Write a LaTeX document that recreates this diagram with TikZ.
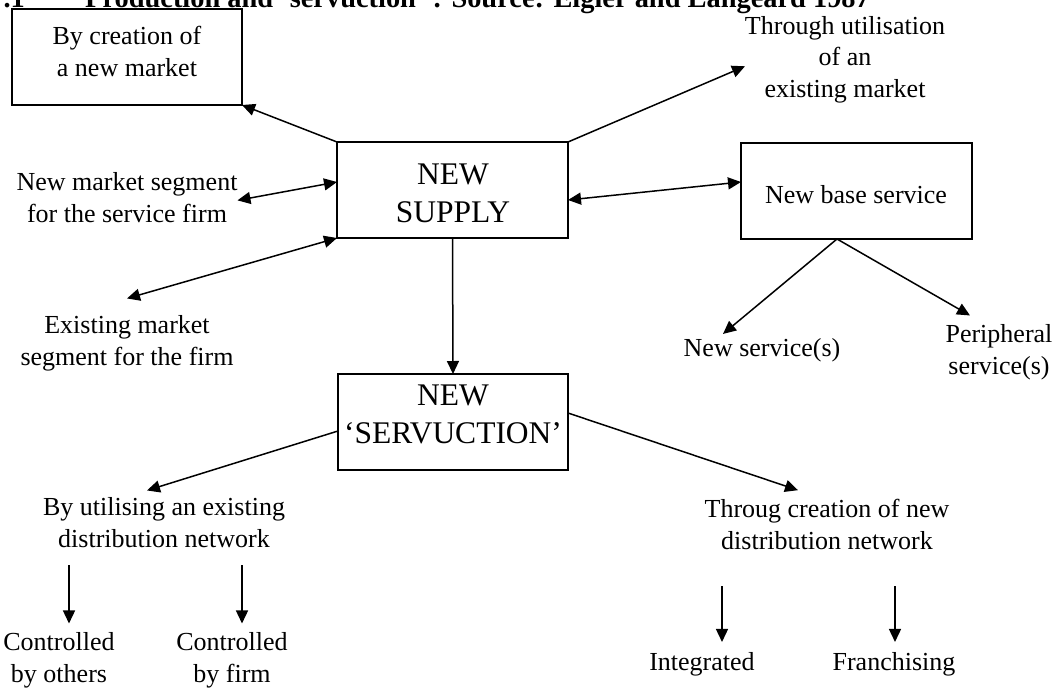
\documentclass[tikz,border=0pt]{standalone}
\usepackage{fontspec}
\setmainfont{Liberation Serif}
\usetikzlibrary{arrows.meta}
\newcommand\bodyfont{\fontsize{26}{31.5}\selectfont}
\newcommand\bigfont{\fontsize{31.5}{38}\selectfont}
\newcommand\headfont{\bfseries\fontsize{28.4}{32}\selectfont}
\tikzset{
  box/.style={draw, line width=1.5pt, minimum width=230pt, minimum height=96pt,
    inner sep=0pt, outer sep=0pt},
  % multi-line labels are placed by the baseline of their last line
  lbl/.style={font=\bodyfont, align=center, inner sep=0pt, outer sep=0pt, anchor=base},
  biglbl/.style={lbl, font=\bigfont},
  tip/.tip={Triangle[length=13pt,width=12pt]},
  arr/.style={-tip, line width=1.5pt},
  darr/.style={tip-tip, line width=1.5pt},
}
\begin{document}
\begin{tikzpicture}[x=1pt, y=-1pt]
  \fill[white] (0,0) rectangle (1063,688);
  \useasboundingbox (0,0) rectangle (1063,688);

  % heading (partly cut off at the top edge)
  \node[anchor=base east, font=\headfont, inner sep=0pt] (hnum) at (25,7) {.1};
  \node[anchor=base west, font=\headfont, inner sep=0pt] (head) at (85,7)
    {Production and `servuction' : Source: Eigler and Langeard 1987};

  % boxes
  \node[box] (cre)    at (127,57)    {};
  \node[box, minimum width=231pt] (supply) at (452.5,190) {};
  \node[box, minimum width=231pt] (base)   at (856.5,191) {};
  \node[box] (serv)   at (453,422)   {};

  % box texts
  \node[lbl]    (creT)    at (127,76)  {By creation of\\a new market};
  \node[biglbl] (supplyT) at (453,222) {NEW\\SUPPLY};
  \node[lbl]    (baseT)   at (856,203) {New base service};
  \node[biglbl] (servT)   at (453,443) {NEW\\`SERVUCTION'};

  % free labels
  \node[lbl] (thru)  at (845,97)  {Through utilisation\\of an\\existing market};
  \node[lbl] (nseg)  at (127,222) {New market segment\\for the service firm};
  \node[lbl] (eseg)  at (127,365) {Existing market\\segment for the firm};
  \node[lbl] (nsv)   at (762,356) {New service(s)};
  \node[lbl] (peri)  at (999,374) {Peripheral\\service(s)};
  \node[lbl] (util)  at (164,547) {By utilising an existing\\distribution network};
  \node[lbl] (crea)  at (827,549) {Throug creation of new\\distribution network};
  \node[lbl] (cbo)   at (59,682)  {Controlled\\by others};
  \node[lbl] (cbf)   at (232,682) {Controlled\\by firm};
  \node[lbl] (integ) at (702,670) {Integrated};
  \node[lbl] (fran)  at (894,670) {Franchising};

  % connectors around NEW SUPPLY
  \draw[arr]  (supply.north west) -- (cre.south east);
  \draw[arr]  (supply.north east) -- ([yshift=-7pt]thru.west);
  \draw[darr] ([yshift=-3pt]nseg.east) -- ([yshift=8pt]supply.west);
  \draw[darr] ([yshift=17pt]eseg.north) -- (supply.south west);
  \draw[darr] ([yshift=-10pt]supply.east) -- ([yshift=9pt]base.west);
  \draw[arr]  (supply.south) -- (serv.north);

  % base service branches
  \draw[arr] ([xshift=-19.5pt]base.south) -- ([xshift=-39pt,yshift=4pt]nsv.north);
  \draw[arr] ([xshift=-19.5pt]base.south) -- ([xshift=-29pt,yshift=9pt]peri.north);

  % distribution branches
  \draw[arr] ([yshift=-9pt]serv.west) -- ([xshift=-17pt,yshift=7pt]util.north);
  \draw[arr] ([yshift=9pt]serv.east) -- ([xshift=-29pt,yshift=9pt]crea.north);

  \draw[arr, shorten <=18pt, shorten >=9pt] ([xshift=10pt]cbo.north |- util.south) -- ([xshift=10pt]cbo.north);
  \draw[arr, shorten <=18pt, shorten >=9pt] ([xshift=10pt]cbf.north |- util.south) -- ([xshift=10pt]cbf.north);
  \draw[arr, shorten <=37pt, shorten >=10pt] ([xshift=20pt]integ.north |- crea.south) -- ([xshift=20pt]integ.north);
  \draw[arr, shorten <=37pt, shorten >=10pt] ([xshift=1pt]fran.north |- crea.south) -- ([xshift=1pt]fran.north);
\end{tikzpicture}
\end{document}
